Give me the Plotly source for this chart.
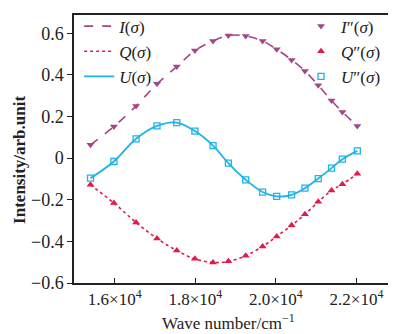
import plotly.graph_objects as go

wavenumber = [15400, 15980, 16530, 17050, 17540, 17990, 18440, 18820, 19250,
              19670, 20020, 20390, 20720, 21050, 21380, 21650, 22020]
I_vals = [0.064, 0.152, 0.251, 0.357, 0.44, 0.517, 0.563, 0.59, 0.587,
          0.563, 0.523, 0.472, 0.419, 0.35, 0.277, 0.222, 0.155]
Q_vals = [-0.128, -0.216, -0.309, -0.386, -0.444, -0.484, -0.501, -0.496, -0.469,
          -0.424, -0.376, -0.323, -0.27, -0.21, -0.155, -0.125, -0.075]
U_vals = [-0.096, -0.016, 0.093, 0.155, 0.171, 0.13, 0.06, -0.024, -0.104,
          -0.163, -0.184, -0.176, -0.144, -0.098, -0.048, -0.005, 0.035]

x_tickvals = [16000, 18000, 20000, 22000]
x_ticktext = ["1.6×10<sup>4</sup>", "1.8×10<sup>4</sup>", "2.0×10<sup>4</sup>", "2.2×10<sup>4</sup>"]
y_tickvals = [-0.6, -0.4, -0.2, 0, 0.2, 0.4, 0.6]
y_ticktext = ["−0.6", "−0.4", "−0.2", "0", "0.2", "0.4", "0.6"]

C_I = "#a5468a"
C_Q = "#e2194b"
C_U = "#1fb3e6"
FONT = "Liberation Serif"

fig = go.Figure()
fig.add_trace(go.Scatter(x=wavenumber, y=I_vals, mode="lines", line=dict(color=C_I, width=1.6, dash="dash", shape="spline"),
                         name="<i>I</i>(<i>σ</i>)", legend="legend"))
fig.add_trace(go.Scatter(x=wavenumber, y=Q_vals, mode="lines", line=dict(color=C_Q, width=1.6, dash="dot", shape="spline"),
                         name="<i>Q</i>(<i>σ</i>)", legend="legend"))
fig.add_trace(go.Scatter(x=wavenumber, y=U_vals, mode="lines", line=dict(color=C_U, width=1.8, shape="spline"),
                         name="<i>U</i>(<i>σ</i>)", legend="legend"))
fig.add_trace(go.Scatter(x=wavenumber, y=I_vals, mode="markers", marker=dict(color=C_I, size=7, symbol="triangle-down"),
                         name="<i>I</i>″(<i>σ</i>)", legend="legend2"))
fig.add_trace(go.Scatter(x=wavenumber, y=Q_vals, mode="markers", marker=dict(color=C_Q, size=7, symbol="triangle-up"),
                         name="<i>Q</i>″(<i>σ</i>)", legend="legend2"))
fig.add_trace(go.Scatter(x=wavenumber, y=U_vals, mode="markers", marker=dict(color=C_U, size=6, symbol="square-open", line=dict(width=1.3)),
                         name="<i>U</i>″(<i>σ</i>)", legend="legend2"))

# page body has an 8px default margin; figure is sized to compensate
fig.update_layout(
    width=388, height=326,
    margin=dict(l=66, r=0, t=7, b=51),
    paper_bgcolor="white", plot_bgcolor="white",
    font=dict(family=FONT, size=17, color="#222"),
    legend=dict(x=0.016, y=1.024, xanchor="left", yanchor="top", bgcolor="rgba(0,0,0,0)",
                font=dict(family=FONT, size=17), tracegroupgap=0, itemwidth=30),
    legend2=dict(x=0.705, y=1.024, xanchor="left", yanchor="top", bgcolor="rgba(0,0,0,0)",
                 font=dict(family=FONT, size=17), tracegroupgap=0, itemwidth=30),
    xaxis=dict(range=[14990, 22980], tickvals=x_tickvals, ticktext=x_ticktext, automargin=False,
               ticks="inside", ticklen=5, tickcolor="#222", showline=True, linecolor="#222", linewidth=1.5,
               mirror=True, showgrid=False, zeroline=False,
               tickfont=dict(family=FONT, size=17)),
    yaxis=dict(range=[-0.6, 0.688], tickvals=y_tickvals, ticktext=y_ticktext, automargin=False,
               ticks="outside", ticklen=5, tickcolor="#222", showline=True, linecolor="#222", linewidth=1.5,
               showgrid=False, zeroline=False,
               tickfont=dict(family=FONT, size=18)),
    annotations=[
        dict(text="Wave number/cm<sup>−1</sup>", xref="paper", yref="paper", x=0.481, y=-0.145,
             xanchor="center", yanchor="middle", showarrow=False, font=dict(family=FONT, size=17)),
        dict(text="<b>Intensity/arb.unit</b>", xref="paper", yref="paper", x=-0.168, y=0.459,
             xanchor="center", yanchor="middle", showarrow=False, textangle=-90, font=dict(family=FONT, size=17)),
    ],
)

fig.write_html("out.html")
